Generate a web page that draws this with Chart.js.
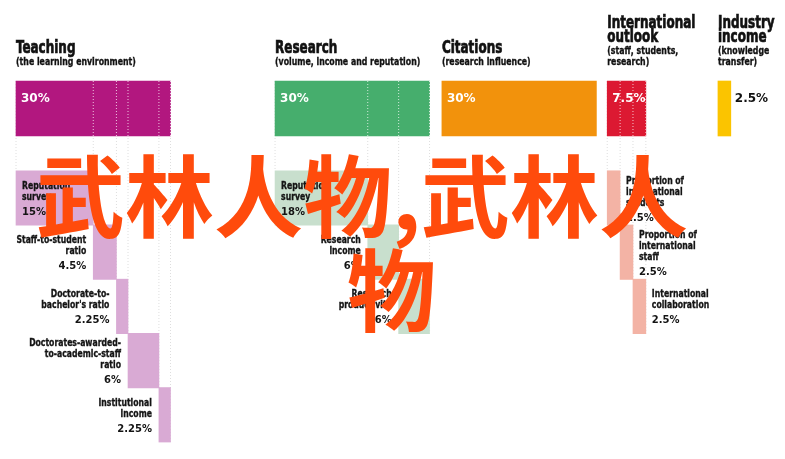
<!DOCTYPE html>
<html>
<head>
<meta charset="utf-8">
<script src="https://cdn.jsdelivr.net/npm/chart.js@4.4.1/dist/chart.umd.min.js"></script>
<style>
  html, body { margin: 0; padding: 0; background: #fff; }
  #wrap { position: relative; width: 785px; height: 459px; }
</style>
</head>
<body>
<div id="wrap"><canvas id="weights"></canvas></div>
<script>
// pillar data
const pillars = ["Teaching", "Research", "Citations", "International\noutlook", "Industry\nincome"];
const pillarNotes = ["(the learning environment)", "(volume, income and reputation)", "(research influence)",
  "(staff, students,\nresearch)", "(knowledge\ntransfer)"];
const pillarWeights = [30, 30, 30, 7.5, 2.5];

// sub-indicators
const teachingParts = ["Reputation\nsurvey", "Staff-to-student\nratio", "Doctorate-to-\nbachelor's ratio",
  "Doctorates-awarded-\nto-academic-staff\nratio", "Institutional\nincome"];
const teachingWeights = [15, 4.5, 2.25, 6, 2.25];
const researchParts = ["Reputation\nsurvey", "Research\nincome", "Research\nproductivity"];
const researchWeights = [18, 6, 6];
const internationalParts = ["Proportion of\ninternational\nstudents", "Proportion of\ninternational\nstaff",
  "International\ncollaboration"];
const internationalWeights = [2.5, 2.5, 2.5];

const watermark = ["武林人物,武林人", "物"];

// layout (percent units on x, row units on y)
const PX_PER_PCT = 5.15;
const ORIGIN_PX = 16;
const panelOffset = [0, 50.3, 82.7, 114.8, 136.3];
const ROW_PX = 54.2;
const ROW0_PX = 198 - ROW_PX;
const TOP_ROW = (108.5 - ROW0_PX) / ROW_PX;
const TOP_HALF = 27.5 / ROW_PX;

const pillarColors = ["#b2177f", "#46ae6d", "#f2920c", "#dc1932", "#fbc400"];
const partColors = ["#d9aad4", "#c8dfcd", null, "#f3b3a5"];

const panels = [
  { index: 0, parts: teachingParts, weights: teachingWeights, side: "left" },
  { index: 1, parts: researchParts, weights: researchWeights, side: "left" },
  { index: 3, parts: internationalParts, weights: internationalWeights, side: "right" }
];

function edgesOf(p) {
  let b = panelOffset[p.index];
  const e = [b];
  p.weights.forEach(w => e.push(b += w));
  return e;
}

const datasets = [];

// white dotted dividers over the pillar bars
const whiteDots = [];
panels.forEach(p => edgesOf(p).slice(1).forEach(x => {
  whiteDots.push({ x, y: TOP_ROW - TOP_HALF }, { x, y: TOP_ROW + TOP_HALF }, { x: null, y: null });
}));
datasets.push({
  type: "line", data: whiteDots, borderColor: "rgba(255,255,255,0.75)", borderWidth: 1,
  borderDash: [1, 2], pointRadius: 0, spanGaps: false, order: 0
});

// pillar bars
datasets.push({
  type: "bar",
  data: pillarWeights.map((w, i) => ({ x: [panelOffset[i], panelOffset[i] + w], y: TOP_ROW })),
  backgroundColor: pillarColors, barThickness: 55, grouped: false, order: 1
});

// sub-indicator bars
panels.forEach(p => {
  const e = edgesOf(p);
  datasets.push({
    type: "bar",
    data: p.weights.map((w, k) => ({ x: [e[k], e[k + 1]], y: k + 1 })),
    backgroundColor: partColors[p.index], barThickness: 54.5, grouped: false, order: 2
  });
});

// faint dotted guides
const greyDots = [];
panels.forEach(p => edgesOf(p).forEach((x, j) => {
  greyDots.push({ x, y: TOP_ROW - TOP_HALF }, { x, y: j === 0 ? 0.5 : j + 0.5 }, { x: null, y: null });
}));
datasets.push({
  type: "line", data: greyDots, borderColor: "#dedede", borderWidth: 1,
  borderDash: [1, 2], pointRadius: 0, spanGaps: false, order: 3
});

const COND = '"DejaVu Sans Condensed", "DejaVu Sans", sans-serif';

// heavy condensed look: squeeze a bold condensed face and thicken it a little
function narrowText(ctx, t, x, y, align, squeeze, weight) {
  ctx.save();
  ctx.translate(x, y);
  ctx.scale(squeeze, 1);
  ctx.textAlign = align;
  ctx.fillText(t, 0, 0);
  if (weight) {
    ctx.lineWidth = weight;
    ctx.strokeStyle = ctx.fillStyle;
    ctx.strokeText(t, 0, 0);
  }
  ctx.restore();
}

const labelPlugin = {
  id: "labels",
  afterDatasetsDraw(chart) {
    const { ctx, scales: { x, y } } = chart;
    ctx.save();
    ctx.textBaseline = "alphabetic";

    // titles
    pillars.forEach((name, i) => {
      const left = x.getPixelForValue(panelOffset[i]);
      const tl = name.split("\n");
      const nl = pillarNotes[i].split("\n");
      const noteFirst = 65 - (nl.length - 1) * 11;
      ctx.fillStyle = "#111";
      ctx.font = "bold 18px " + COND;
      tl.forEach((t, k) => narrowText(ctx, t, left, noteFirst - 12.5 - (tl.length - 1 - k) * 14, "left", 0.74, 0.7));
      ctx.font = "bold 11px " + COND;
      nl.forEach((t, k) => narrowText(ctx, t, left, noteFirst + k * 11, "left", 0.79, 0.35));

      // weight on pillar bar
      const txt = pillarWeights[i] + "%";
      ctx.font = 'bold 12px "DejaVu Sans", sans-serif';
      ctx.textAlign = "left";
      const right = x.getPixelForValue(panelOffset[i] + pillarWeights[i]);
      const by = y.getPixelForValue(TOP_ROW) - 7;
      if (ctx.measureText(txt).width + 5 < right - left) {
        ctx.fillStyle = "#fff";
        ctx.fillText(txt, left + 5, by);
      } else {
        ctx.fillStyle = "#111";
        ctx.fillText(txt, right + 4, by);
      }
    });

    // sub-indicator labels
    panels.forEach(p => {
      const e = edgesOf(p);
      p.parts.forEach((label, k) => {
        const lines = label.split("\n");
        const cy = y.getPixelForValue(k + 1);
        const first = cy + 4 - ((lines.length - 1) * 11 + 15) / 2;
        const x0 = x.getPixelForValue(e[k]);
        const x1 = x.getPixelForValue(e[k + 1]);
        let tx, align;
        if (p.side === "right") { align = "left"; tx = x1 + 6; }
        else if (x1 - x0 > 60) { align = "left"; tx = x0 + 6; }
        else { align = "right"; tx = x0 - 7; }
        ctx.fillStyle = "#141414";
        ctx.font = "bold 11px " + COND;
        lines.forEach((t, n) => narrowText(ctx, t, tx, first + n * 11, align, 0.78, 0.35));
        ctx.font = 'bold 10px "DejaVu Sans", sans-serif';
        ctx.textAlign = align;
        ctx.fillText(p.weights[k] + "%", tx, first + (lines.length - 1) * 11 + 15);
      });
    });
    ctx.restore();
  },
  afterDraw(chart) {
    const { ctx } = chart;
    ctx.save();
    ctx.fillStyle = "#ff4b0c";
    ctx.textAlign = "left";
    ctx.textBaseline = "alphabetic";
    ctx.font = 'bold 89px "Noto Sans CJK SC", sans-serif';
    ctx.fillText(watermark[0], 36, 230);
    ctx.fillText(watermark[1], 347, 324);
    ctx.restore();
  }
};

new Chart(document.getElementById("weights"), {
  type: "bar",
  data: { datasets },
  options: {
    indexAxis: "y",
    responsive: true,
    maintainAspectRatio: false,
    animation: false,
    layout: { padding: 0 },
    plugins: { legend: { display: false }, tooltip: { enabled: false } },
    scales: {
      x: { type: "linear", display: false, offset: false,
           min: -ORIGIN_PX / PX_PER_PCT, max: (785 - ORIGIN_PX) / PX_PER_PCT },
      y: { type: "linear", display: false, offset: false, reverse: true,
           min: -ROW0_PX / ROW_PX, max: (459 - ROW0_PX) / ROW_PX }
    }
  },
  plugins: [labelPlugin]
});
</script>
</body>
</html>
